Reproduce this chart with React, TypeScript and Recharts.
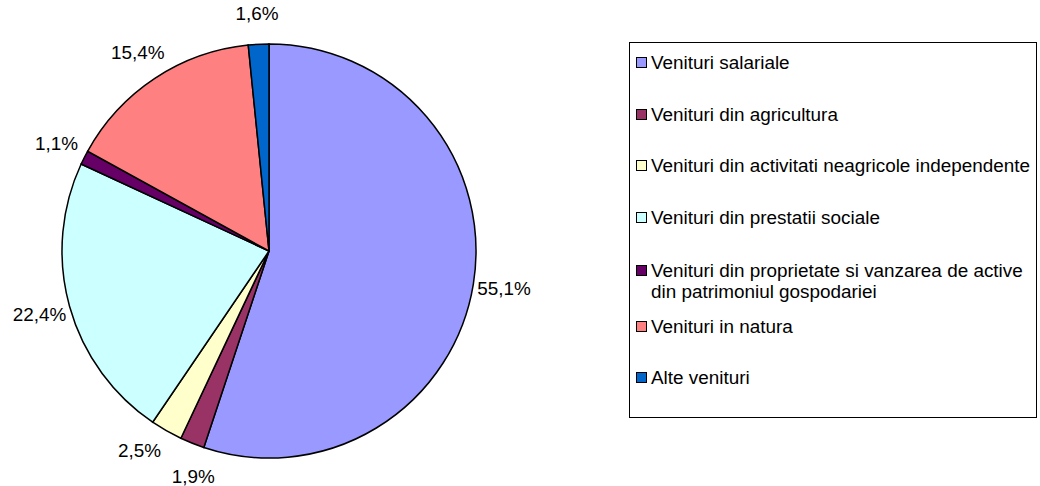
import { PieChart, Pie, Cell, Legend } from 'recharts'

const categories = [
  'Venituri salariale',
  'Venituri din agricultura',
  'Venituri din activitati neagricole independente',
  'Venituri din prestatii sociale',
  'Venituri din proprietate si vanzarea de active din patrimoniul gospodariei',
  'Venituri in natura',
  'Alte venituri'
]
const shares = [55.1, 1.9, 2.5, 22.4, 1.1, 15.4, 1.6]
const colors = ['#9999FF', '#993366', '#FFFFCC', '#CCFFFF', '#660066', '#FF8080', '#0066CC']

const data = categories.map((name, i) => ({ name, value: shares[i] }))

const FONT = 'Arial, "Liberation Sans", sans-serif'
const FS = 18.9
const CX = 269
const CY = 251
const R = 207
const LABEL_R = R + 31
const RAD = Math.PI / 180

const fmt = (v: number) => v.toFixed(1).replace('.', ',') + '%'

// rough text width for Arial-like font
const textW = (s: string) =>
  s.split('').reduce((w, c) => w + (c === ',' ? 0.278 : c === '%' ? 0.889 : 0.556), 0) * FS

// label angles (recharts convention, degrees counter-clockwise from 3 o'clock),
// pushed apart when neighbouring labels would crowd each other
function layoutLabels() {
  const total = shares.reduce((a, b) => a + b, 0)
  let acc = 0
  const angles = shares.map((v) => {
    const mid = 90 - ((acc + v / 2) / total) * 360
    acc += v
    return mid
  })
  const pos = (a: number) => ({
    x: CX + LABEL_R * Math.cos(-a * RAD),
    y: CY + LABEL_R * Math.sin(-a * RAD)
  })
  const crowded = (i: number, j: number) => {
    const p = pos(angles[i])
    const q = pos(angles[j])
    const wi = textW(fmt(shares[i]))
    const wj = textW(fmt(shares[j]))
    return Math.abs(p.x - q.x) < (wi + wj) / 2 + 16 && Math.abs(p.y - q.y) < FS + 7
  }
  for (let iter = 0; iter < 200; iter++) {
    let moved = false
    for (let i = 0; i < angles.length - 1; i++) {
      if (crowded(i, i + 1)) {
        angles[i] += 0.25
        angles[i + 1] -= 0.25
        moved = true
      }
    }
    if (!moved) break
  }
  return angles.map(pos)
}

const labelPos = layoutLabels()

function renderLabel(props: any) {
  const { index, value } = props
  const p = labelPos[index]
  return (
    <text x={p.x} y={p.y} fill="#000" fontSize={FS} fontFamily={FONT} textAnchor="middle" dominantBaseline="central">
      {fmt(value)}
    </text>
  )
}

function LegendBox() {
  return (
    <div
      style={{
        border: '1px solid #000',
        boxSizing: 'border-box',
        width: 408,
        height: 376,
        padding: '9px 1px 0 6px',
        display: 'flex',
        flexDirection: 'column',
        gap: 30.5,
        fontFamily: FONT,
        fontSize: FS,
        color: '#000',
        background: '#fff'
      }}
    >
      {data.map((d, i) => (
        <div
          key={d.name}
          style={{
            display: 'flex',
            alignItems: 'flex-start',
            lineHeight: '21px',
            marginTop: d.name.length > 50 ? 2 : 0,
            marginBottom: d.name.length > 50 ? -17 : 0
          }}
        >
          <span
            style={{
              display: 'inline-block',
              width: 9,
              height: 9,
              border: '1.5px solid #000',
              background: colors[i],
              marginTop: 5,
              marginRight: 4,
              flex: 'none'
            }}
          />
          <span>{d.name}</span>
        </div>
      ))}
    </div>
  )
}

export default function App() {
  return (
    <div style={{ position: 'absolute', left: 0, top: 0, background: '#fff' }}>
      <PieChart width={1040} height={486} margin={{ top: 0, right: 0, bottom: 0, left: 0 }}>
        <Pie
          data={data}
          dataKey="value"
          nameKey="name"
          cx={CX}
          cy={CY}
          outerRadius={R}
          startAngle={90}
          endAngle={-270}
          stroke="#000"
          strokeWidth={1.5}
          label={renderLabel}
          labelLine={false}
          isAnimationActive={false}
        >
          {data.map((d, i) => (
            <Cell key={d.name} fill={colors[i]} />
          ))}
        </Pie>
        <Legend
          layout="vertical"
          content={() => <LegendBox />}
          wrapperStyle={{ left: 629, top: 42, width: 408, height: 376 }}
        />
      </PieChart>
    </div>
  )
}
